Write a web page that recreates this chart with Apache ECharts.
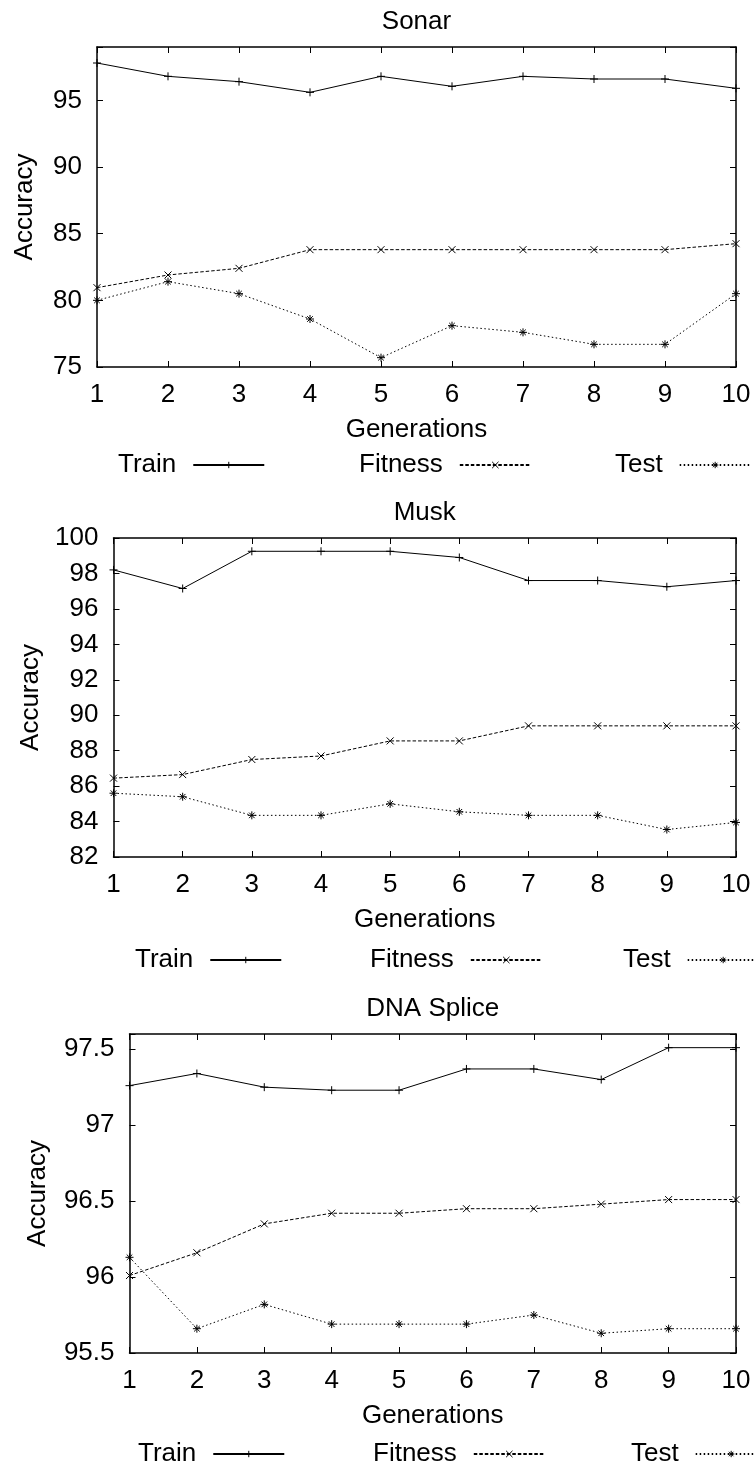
<!DOCTYPE html>
<html><head><meta charset="utf-8">
<script src="https://cdn.jsdelivr.net/npm/echarts@6/dist/echarts.min.js"></script>
<style>html,body{margin:0;padding:0;background:#fff}#c{width:754px;height:1465px}</style>
</head><body><div id="c"></div>
<script>
// ---------------- data ----------------
const generations = ['1','2','3','4','5','6','7','8','9','10'];
const seriesNames = ['Train', 'Fitness', 'Test'];
const panelTitles = ['Sonar', 'Musk', 'DNA Splice'];
const xAxisTitle = 'Generations';
const yAxisTitle = 'Accuracy';

const sonarTrain   = [97.8, 96.8, 96.4, 95.6, 96.8, 96.05, 96.8, 96.6, 96.6, 95.9];
const sonarFitness = [80.95, 81.9, 82.4, 83.8, 83.8, 83.8, 83.8, 83.8, 83.8, 84.25];
const sonarTest    = [80.0, 81.4, 80.5, 78.6, 75.7, 78.1, 77.6, 76.7, 76.7, 80.5];

const muskTrain   = [98.2, 97.15, 99.25, 99.25, 99.25, 98.9, 97.6, 97.6, 97.25, 97.6];
const muskFitness = [86.45, 86.65, 87.5, 87.7, 88.55, 88.55, 89.4, 89.4, 89.4, 89.4];
const muskTest    = [85.6, 85.4, 84.35, 84.35, 85.0, 84.55, 84.35, 84.35, 83.55, 83.95];

const dnaTrain   = [97.26, 97.34, 97.25, 97.23, 97.23, 97.37, 97.37, 97.30, 97.51, 97.51];
const dnaFitness = [96.01, 96.16, 96.35, 96.42, 96.42, 96.45, 96.45, 96.48, 96.51, 96.51];
const dnaTest    = [96.13, 95.66, 95.82, 95.69, 95.69, 95.69, 95.75, 95.63, 95.66, 95.66];

// y ranges: [min, max, tick interval]
const sonarYRange = [75, 99, 5];
const muskYRange  = [82, 100, 2];
const dnaYRange   = [95.5, 97.6, 0.5];

// ---------------- layout / style ----------------
const FONT = "'Liberation Sans', Arial, Helvetica, sans-serif";
const FS = 26;
const panels = [
  { title: panelTitles[0], data: [sonarTrain, sonarFitness, sonarTest], yr: sonarYRange,
    left: 97, top: 47, height: 320, yGap: 59, legendTop: 447, legendLeft: [113, 354, 610] },
  { title: panelTitles[1], data: [muskTrain, muskFitness, muskTest], yr: muskYRange,
    left: 113.5, top: 538, height: 319, yGap: 60, legendTop: 942, legendLeft: [130, 365, 618] },
  { title: panelTitles[2], data: [dnaTrain, dnaFitness, dnaTest], yr: dnaYRange,
    left: 129.5, top: 1034, height: 319, yGap: 79, legendTop: 1436, legendLeft: [133, 368, 626] }
];

const plusPath = 'path://M5 0L5 10M0 5L10 5';
const crossPath = 'path://M0 0L10 10M10 0L0 10';
const starPath = 'path://M5 0L5 10M0 5L10 5M1.5 1.5L8.5 8.5M8.5 1.5L1.5 8.5';
const styles = [
  { symbol: plusPath, size: 8, type: 'solid' },
  { symbol: crossPath, size: 7, type: [3.5, 2] },
  { symbol: starPath, size: 8, type: [1.5, 2.5] }
];

const axisLine = { show: true, onZero: false, lineStyle: { color: '#000', width: 1.5 } };
const tick = { show: true, inside: true, length: 6, lineStyle: { color: '#000', width: 1 } };
const markerStyle = { color: 'rgba(0,0,0,0)', borderColor: '#000', borderWidth: 1 };

const grid = [], xAxis = [], yAxis = [], series = [], legend = [];

panels.forEach((p, i) => {
  grid.push({ left: p.left, right: 18, top: p.top, height: p.height });
  // bottom x
  xAxis.push({
    gridIndex: i, type: 'category', data: generations, boundaryGap: false, position: 'bottom',
    axisLine, axisTick: Object.assign({ alignWithLabel: true }, tick),
    axisLabel: { color: '#000', fontSize: FS, fontFamily: FONT, margin: 15 },
    splitLine: { show: false },
    name: xAxisTitle, nameLocation: 'middle', nameGap: 50,
    nameTextStyle: { color: '#000', fontSize: FS, fontFamily: FONT }
  });
  // top mirror x (carries the panel title)
  xAxis.push({
    gridIndex: i, type: 'category', data: generations, boundaryGap: false, position: 'top',
    axisLine, axisTick: Object.assign({ alignWithLabel: true }, tick),
    axisLabel: { show: false }, splitLine: { show: false },
    name: p.title, nameLocation: 'middle', nameGap: 12,
    nameTextStyle: { color: '#000', fontSize: FS, fontFamily: FONT }
  });
  const [mn, mx, iv] = p.yr;
  const fmt = v => {
    const k = (v - mn) / iv;
    return Math.abs(k - Math.round(k)) < 1e-6 ? String(+v.toFixed(2)) : '';
  };
  yAxis.push({
    gridIndex: i, type: 'value', min: mn, max: mx, interval: iv, position: 'left',
    axisLine, axisTick: tick,
    axisLabel: { color: '#000', fontSize: FS, fontFamily: FONT, margin: 15, formatter: fmt },
    splitLine: { show: false },
    name: yAxisTitle, nameLocation: 'middle', nameGap: p.yGap, nameRotate: 90,
    nameTextStyle: { color: '#000', fontSize: FS, fontFamily: FONT }
  });
  yAxis.push({
    gridIndex: i, type: 'value', min: mn, max: mx, interval: iv, position: 'right',
    axisLine, axisTick: tick, axisLabel: { show: false }, splitLine: { show: false }
  });
  seriesNames.forEach((name, s) => {
    series.push({
      name, type: 'line', xAxisIndex: 2 * i, yAxisIndex: 2 * i,
      data: p.data[s],
      symbol: styles[s].symbol, symbolSize: styles[s].size, showSymbol: true,
      lineStyle: { color: '#000', width: 1, type: styles[s].type },
      itemStyle: markerStyle,
      emphasis: { disabled: true }, animation: false
    });
    legend.push({
      data: [name], left: p.legendLeft[s], top: p.legendTop, align: 'right',
      itemWidth: 71, itemHeight: 8, selectedMode: false,
      itemStyle: markerStyle,
      textStyle: { color: '#000', fontSize: FS, fontFamily: FONT, padding: [0, 12, 0, 0] }
    });
  });
});

const chart = echarts.init(document.getElementById('c'), null, { renderer: 'canvas' });
chart.setOption({ backgroundColor: '#fff', animation: false, grid, xAxis, yAxis, series, legend });
</script></body></html>
